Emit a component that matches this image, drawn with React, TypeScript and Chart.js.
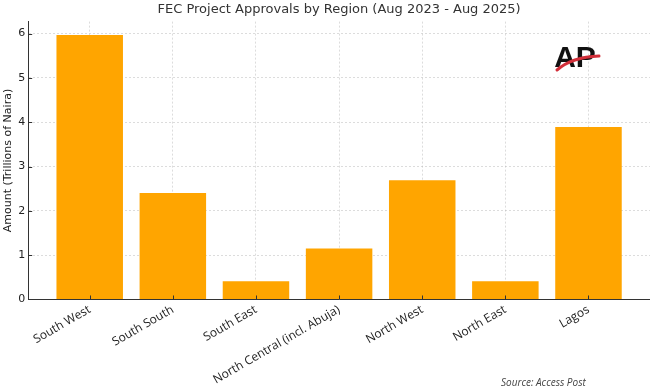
import React, { useEffect, useRef } from "react";
import { Chart, registerables } from "chart.js";

Chart.register(...registerables);

const regions = [
  "South West",
  "South South",
  "South East",
  "North Central (incl. Abuja)",
  "North West",
  "North East",
  "Lagos",
];
const amounts = [5.97, 2.4, 0.41, 1.15, 2.69, 0.41, 3.89];
const yTicks = [0, 1, 2, 3, 4, 5, 6];
const titleText = "FEC Project Approvals by Region (Aug 2023 - Aug 2025)";
const yTitle = "Amount (Trillions of Naira)";
const sourceText = "Source: Access Post";

const extrasPlugin = {
  id: "extras",
  afterDraw(chart: any) {
    const ctx = chart.ctx;
    const xs = chart.scales.x;
    const ys = chart.scales.y;
    const area = chart.chartArea;
    ctx.save();
    // inward tick marks
    ctx.strokeStyle = "#333";
    ctx.lineWidth = 1;
    regions.forEach((_, i) => {
      const px = Math.round(xs.getPixelForValue(i)) + 0.5;
      ctx.beginPath();
      ctx.moveTo(px, area.bottom);
      ctx.lineTo(px, area.bottom - 4);
      ctx.stroke();
    });
    yTicks.forEach((v) => {
      const py = Math.round(ys.getPixelForValue(v)) + 0.5;
      ctx.beginPath();
      ctx.moveTo(area.left, py);
      ctx.lineTo(area.left + 4, py);
      ctx.stroke();
    });
    // source note
    ctx.fillStyle = "#444";
    ctx.font = "italic 10px 'Open Sans'";
    ctx.textAlign = "left";
    ctx.textBaseline = "alphabetic";
    ctx.fillText(sourceText, 501, 386);
    // logo
    ctx.fillStyle = "#111";
    ctx.font = "bold 30px 'Liberation Sans'";
    ctx.textAlign = "center";
    ctx.fillText("AP", 575, 67);
    ctx.strokeStyle = "#d32f3a";
    ctx.lineWidth = 3;
    ctx.lineCap = "round";
    ctx.beginPath();
    ctx.moveTo(557, 70);
    ctx.quadraticCurveTo(572, 57, 599, 56);
    ctx.stroke();
    ctx.restore();
  },
};

export default function App() {
  const ref = useRef<HTMLCanvasElement>(null);
  useEffect(() => {
    if (!ref.current) return;
    const chart = new Chart(ref.current, {
      type: "bar",
      data: {
        datasets: [
          {
            data: amounts.map((v, i) => ({ x: i, y: v })),
            backgroundColor: "#FFA500",
            borderWidth: 0,
            barPercentage: 0.8,
            categoryPercentage: 1,
          },
        ],
      },
      options: {
        animation: false,
        responsive: true,
        maintainAspectRatio: false,
        layout: { padding: { left: 2, right: 0, top: 2, bottom: 0 } },
        plugins: {
          legend: { display: false },
          tooltip: { enabled: false },
          title: {
            display: true,
            text: titleText,
            fullSize: false,
            color: "#333",
            font: { family: "'DejaVu Sans'", size: 13, weight: "normal" },
            padding: { top: 0, bottom: 4 },
          },
        },
        scales: {
          x: {
            type: "linear",
            min: -0.74,
            max: 6.74,
            offset: false,
            z: 1,
            afterBuildTicks: (s: any) => {
              s.ticks = regions.map((_, i) => ({ value: i }));
            },
            afterFit: (s: any) => {
              s.paddingLeft = 0;
              s.paddingRight = 0;
            },
            ticks: {
              autoSkip: false,
              maxRotation: 30,
              minRotation: 30,
              color: "#222",
              padding: 3,
              font: { family: "'Open Sans'", size: 12 },
              callback: (v: any) => regions[v] ?? "",
            },
            grid: {
              offset: false,
              color: "rgba(185,185,185,0.5)",
              drawTicks: false,
            },
            border: { display: true, color: "#333", width: 1, dash: [2, 2] },
          },
          y: {
            min: 0,
            max: 6.27,
            z: 1,
            afterBuildTicks: (s: any) => {
              s.ticks = yTicks.map((v) => ({ value: v }));
            },
            ticks: {
              color: "#222",
              padding: 3,
              font: { family: "'DejaVu Sans'", size: 11 },
            },
            grid: {
              color: "rgba(185,185,185,0.5)",
              drawTicks: false,
            },
            border: { display: true, color: "#333", width: 1, dash: [2, 2] },
            title: {
              display: true,
              text: yTitle,
              color: "#222",
              font: { family: "'DejaVu Sans'", size: 11 },
              padding: { top: 0, bottom: 0 },
            },
          },
        },
      },
      plugins: [extrasPlugin],
    } as any);
    return () => chart.destroy();
  }, []);
  return (
    <div
      style={{
        position: "fixed",
        left: 0,
        top: 0,
        width: 650,
        height: 390,
        background: "#fff",
      }}
    >
      <canvas ref={ref} />
    </div>
  );
}
